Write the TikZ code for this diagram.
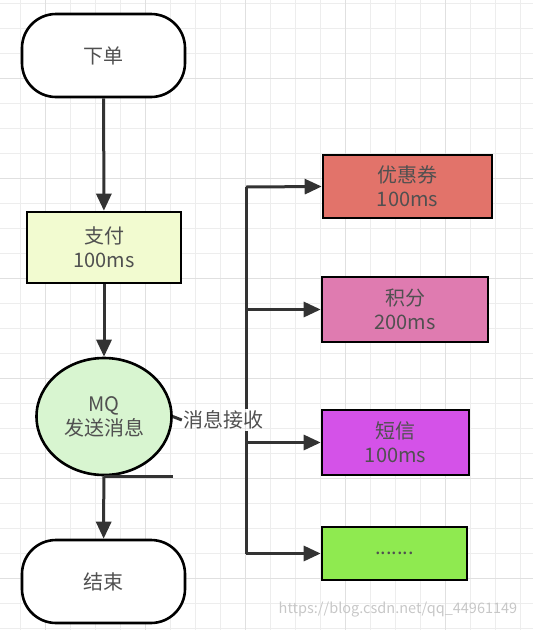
\documentclass[tikz,border=0pt]{standalone}
\usepackage{fontspec}
\setmainfont{Noto Sans CJK SC}
\usetikzlibrary{arrows.meta,shapes.geometric}
\definecolor{payfill}{HTML}{F2FBD0}
\definecolor{mqfill}{HTML}{D8F5D0}
\definecolor{couponfill}{HTML}{E2736A}
\definecolor{pointfill}{HTML}{DF7BB0}
\definecolor{smsfill}{HTML}{D452E8}
\definecolor{morefill}{HTML}{8FEA50}
\definecolor{txt}{HTML}{505050}

\begin{document}
\begin{tikzpicture}[x=1pt, y=-1pt,
		every node/.style={font=\fontsize{20}{24}\selectfont, text=txt, align=center},
		terminal/.style={draw, line width=2.6pt, rounded corners=34pt, fill=white, minimum width=163pt, minimum height=83pt},
		task/.style={draw, line width=2.6pt, inner sep=0pt},
		link/.style={line width=3pt, draw=black!80},
		flow/.style={link, -{Triangle[length=17pt,width=15pt]}}]
	\useasboundingbox (0,0) rectangle (533,630);
	% grid
	\foreach \gx in {-5,20,...,533} \draw[black!7, line width=0.8pt] (\gx,0) -- (\gx,630);
	\foreach \gy in {3,28,...,630} \draw[black!7, line width=0.8pt] (0,\gy) -- (533,\gy);
	\foreach \gx in {45,145,...,533} \draw[black!12, line width=1pt] (\gx,0) -- (\gx,630);
	\foreach \gy in {78,178,...,630} \draw[black!12, line width=1pt] (0,\gy) -- (533,\gy);
	% main flow
	\node[terminal] (order) at (103.5,55.5) {下单};
	\node[task, fill=payfill, minimum width=154pt, minimum height=71pt] (pay) at (104,247.5) {支付\\100ms};
	\node[ellipse, draw, line width=2.6pt, fill=mqfill, minimum width=135pt, minimum height=117pt, inner sep=0pt] (mq) at (104,416.5) {MQ\\发送消息};
	\node[terminal] (end) at (103.5,581.5) {结束};
	\draw[link] (mq.south) -- (mq.south -| mq.east);
	\draw[flow] (order) -- (pay);
	\draw[flow] (pay) -- (mq);
	\draw[flow] (mq) -- (end);
	% consumers
	\node[task, fill=couponfill, minimum width=169pt, minimum height=63pt] (coupon) at (407.5,186.5) {优惠券\\100ms};
	\node[task, fill=pointfill, minimum width=166pt, minimum height=65pt] (point) at (405,309.5) {积分\\200ms};
	\node[task, fill=smsfill, minimum width=147pt, minimum height=65pt] (sms) at (395.5,442.5) {短信\\100ms};
	\node[task, fill=morefill, minimum width=145pt, minimum height=53pt] (more) at (394.5,553.5) {.......};
	\node[inner sep=1pt] (recv) at (223,420) {消息接收};
	\draw[link] (mq.east) -- (recv.west);
	\coordinate (top) at (246,187);
	\coordinate (bot) at (246,553.5);
	\draw[link] (top) -- (top |- recv.north);
	\draw[link] (bot) -- (bot |- recv.south);
	\draw[flow] (top) -- (coupon.west);
	\draw[flow] (top |- point.west) -- (point.west);
	\draw[flow] (top |- sms.west) -- (sms.west);
	\draw[flow] (bot) -- (more.west);
	\node[font=\fontsize{14.5}{17}\selectfont, text=black!22] (mark) at (398,610) {https://blog.csdn.net/qq\_44961149};
\end{tikzpicture}
\end{document}
